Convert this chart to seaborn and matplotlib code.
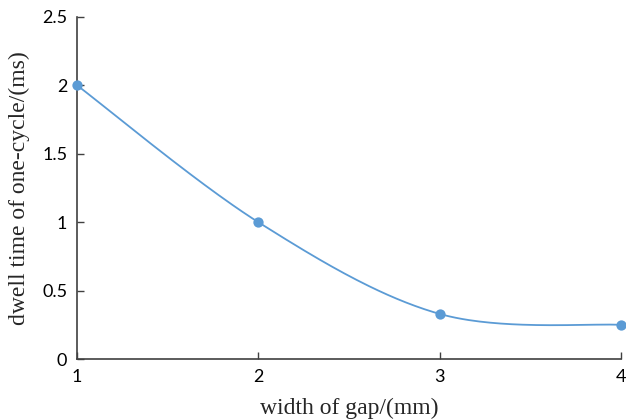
import numpy as np
import matplotlib
matplotlib.use("Agg")
import matplotlib.pyplot as plt
import seaborn as sns

gap_width = [1, 2, 3, 4]
dwell_time = [2.0, 1.0, 0.33, 0.25]
x_ticks = [1, 2, 3, 4]
y_ticks = [0, 0.5, 1, 1.5, 2, 2.5]
y_tick_labels = ["0", "0.5", "1", "1.5", "2", "2.5"]

sns.set_theme(style="ticks")
plt.rcParams['font.family'] = ['Lato', 'DejaVu Sans']

color = "#5B9BD5"

def smooth(xs, ys, n=60):
    xs = np.asarray(xs, float); ys = np.asarray(ys, float)
    px = np.concatenate([[xs[0]], xs, [xs[-1]]])
    py = np.concatenate([[ys[0]], ys, [ys[-1]]])
    outx, outy = [], []
    t = np.linspace(0, 1, n)
    for i in range(1, len(px) - 2):
        p0 = np.array([px[i], py[i]]); p3 = np.array([px[i + 1], py[i + 1]])
        p1 = p0 + (np.array([px[i + 1], py[i + 1]]) - np.array([px[i - 1], py[i - 1]])) / 6
        p2 = p3 - (np.array([px[i + 2], py[i + 2]]) - np.array([px[i], py[i]])) / 6
        b = ((1 - t)**3)[:, None] * p0 + (3 * (1 - t)**2 * t)[:, None] * p1 + (3 * (1 - t) * t**2)[:, None] * p2 + (t**3)[:, None] * p3
        outx.extend(b[:, 0]); outy.extend(b[:, 1])
    return outx, outy

fig = plt.figure(figsize=(6.26, 4.2), dpi=100)
ax = fig.add_axes([0.123, 0.145, 0.869, 0.815])

sx, sy = smooth(gap_width, dwell_time)
sns.lineplot(x=sx, y=sy, ax=ax, color=color, linewidth=1.3, sort=False, estimator=None)
sns.scatterplot(x=gap_width, y=dwell_time, ax=ax, color=color, s=55, edgecolor=color, linewidth=0, zorder=3, clip_on=False)

ax.set_xlim(1, 4)
ax.set_ylim(0, 2.5)
ax.set_xticks(x_ticks)
ax.set_xticklabels([str(v) for v in x_ticks])
ax.set_yticks(y_ticks)
ax.set_yticklabels(y_tick_labels)
ax.tick_params(axis='both', direction='in', length=5, width=1, color='#404040', labelsize=13, labelcolor='black')
ax.tick_params(axis='x', pad=7)
ax.tick_params(axis='y', pad=7)
for s in ['top', 'right']:
    ax.spines[s].set_visible(False)
for s in ['left', 'bottom']:
    ax.spines[s].set_color('#404040')
    ax.spines[s].set_linewidth(1.2)

ax.set_xlabel("width of gap/(mm)", family=['Liberation Serif'], fontsize=17, labelpad=9)
ax.set_ylabel("dwell time of one-cycle/(ms)", family=['Liberation Serif'], fontsize=17, labelpad=9)

fig.savefig("out.png", dpi=100)
